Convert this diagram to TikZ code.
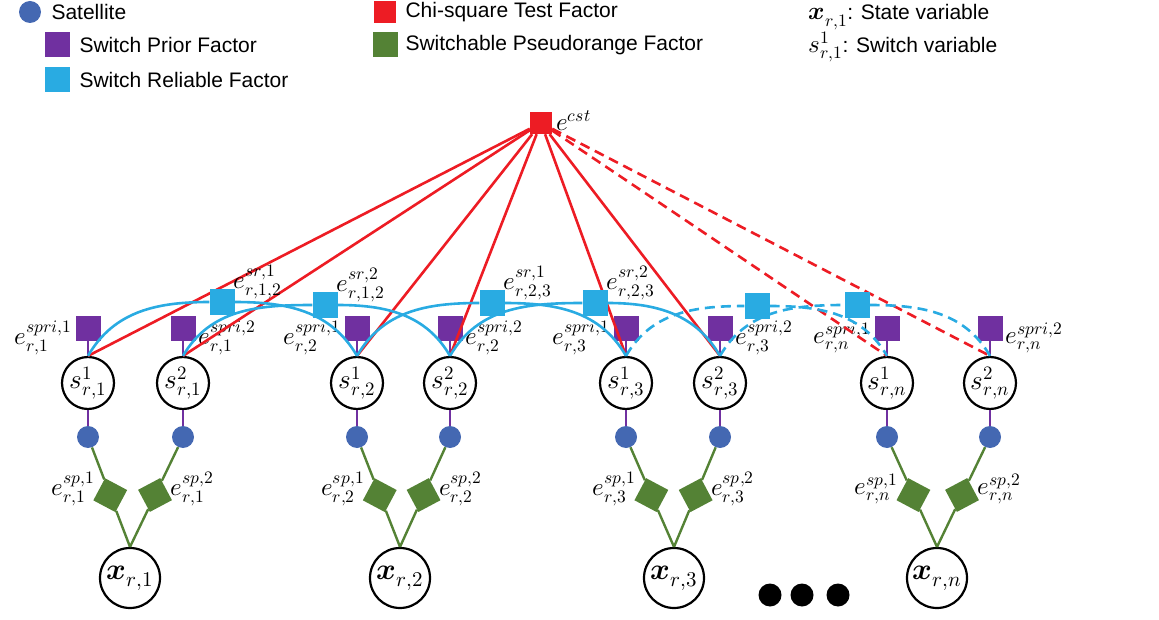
\documentclass[tikz,border=0pt]{standalone}
\usepackage{amsmath}
\usepackage{fontspec}
\usepackage{unicode-math}
\setmainfont{Liberation Sans}
\setmathfont{Latin Modern Math}
\usetikzlibrary{positioning, calc}
\definecolor{satcolor}{RGB}{68,104,178}
\definecolor{pricolor}{RGB}{112,48,160}
\definecolor{relcolor}{RGB}{41,171,226}
\definecolor{cstcolor}{RGB}{237,28,36}
\definecolor{spcolor}{RGB}{84,130,53}
\tikzset{
  svar/.style={draw, circle, line width=2.2pt, minimum size=52pt, inner sep=0pt, font=\fontsize{27}{29}\selectfont},
  xvar/.style={draw, circle, line width=2.2pt, minimum size=60pt, inner sep=0pt, font=\fontsize{30}{32}\selectfont},
  sat/.style={circle, fill=satcolor, minimum size=22pt, inner sep=0pt},
  prif/.style={rectangle, fill=pricolor, minimum size=25pt, inner sep=0pt},
  relf/.style={rectangle, fill=relcolor, minimum size=25pt, inner sep=0pt},
  cstf/.style={rectangle, fill=cstcolor, minimum size=22pt, inner sep=0pt},
  spf/.style={rectangle, fill=spcolor, minimum size=25pt, inner sep=0pt},
  flab/.style={font=\fontsize{25}{26}\selectfont, inner sep=0pt},
  leg/.style={font=\fontsize{21}{24}\selectfont, anchor=west},
  cstline/.style={cstcolor, line width=2.6pt},
  relline/.style={relcolor, line width=2.6pt},
  dashy/.style={dash pattern=on 10pt off 6pt},
}
\begin{document}
\begin{tikzpicture}[x=1pt, y=-1pt]
    \useasboundingbox (0,0) rectangle (1159,620);

    % Legend
    \node[sat] (lsat) at (30,12) {};
    \node[leg] at (48,12) {Satellite};
    \node[prif] (lpri) at (57,45) {};
    \node[leg] at (76,45) {Switch Prior Factor};
    \node[relf] (lrel) at (57,80) {};
    \node[leg] at (76,80) {Switch Reliable Factor};
    \node[cstf] (lcst) at (385,12) {};
    \node[leg] at (402,12) {Chi-square Test Factor};
    \node[spf] (lsp) at (385,45) {};
    \node[leg] at (402,45) {Switchable Pseudorange Factor};
    \node[leg] at (805,17) {{\fontsize{25}{26}\selectfont$\symbfit{x}_{r,1}$}: State variable};
    \node[leg] at (805,47) {{\fontsize{25}{26}\selectfont$s^{1}_{r,1}$}: Switch variable};

    % Chi-square factor
    \node[cstf] (cst) at (541,123) {};
    \node[flab, anchor=west] at (556,121) {$e^{cst}$};

    % Switch variables, prior factors, satellites
    \foreach \nm/\px/\i/\k/\sd in {a1/88/1/1/left, a2/183/1/2/right,
        b1/357/2/1/left, b2/450/2/2/right,
        c1/626/3/1/left, c2/720/3/2/right,
        d1/887/n/1/left, d2/990/n/2/right} {
      \node[svar] (s\nm) at (\px,383) {$s^{\k}_{r,\i}$};
      \node[prif] (p\nm) at (\px,328) {};
      \node[sat] (t\nm) at (\px,437) {};
      \draw[pricolor, line width=2.2pt] (p\nm) -- (s\nm) -- (t\nm);
      \node[flab, \sd=3pt of p\nm, yshift=-10pt] {$e^{spri,\k}_{r,\i}$};
    }

    % State variables and pseudorange factors
    \foreach \g/\px/\i in {a/130/1, b/400/2, c/674/3, d/937/n} {
      \node[xvar] (x\g) at (\px,578) {$\symbfit{x}_{r,\i}$};
      \foreach \k/\sd/\rot in {1/left/-28, 2/right/28} {
        \path (t\g\k) -- coordinate[pos=0.48] (m\g\k) (x\g.north);
        \node[spf, rotate=\rot] (f\g\k) at (m\g\k) {};
        \draw[spcolor, line width=2.4pt] (t\g\k) -- (f\g\k) -- (x\g.north);
        \node[flab, \sd=4pt of f\g\k] {$e^{sp,\k}_{r,\i}$};
      }
    }

    % Dots
    \foreach \px in {770,802,838} \node[circle, fill=black, minimum size=23pt, inner sep=0pt] at (\px,595) {};

    % Chi-square lines
    \foreach \nm in {a1,a2,b1,b2,c1,c2} \draw[cstline] (cst) -- (s\nm.north);
    \foreach \nm in {d1,d2} \draw[cstline, dashy] (cst) -- (s\nm.north);

    % Switch reliable factors (arcs)
    \foreach \u/\v/\rx/\ry/\j/\k in {a1/b1/222/302/{1,2}/1, a2/b2/325/305/{1,2}/2,
        b1/c1/492/303/{2,3}/1, b2/c2/595/303/{2,3}/2} {
      \node[relf] (r\u) at (\rx,\ry) {};
      \draw[relline] (s\u.north) to[out=60, in=180] (r\u) to[out=0, in=120] (s\v.north);
      \node[flab, anchor=south west] at ($(r\u.north east)+(-1,10)$) {$e^{sr,\k}_{r,\j}$};
    }
    \foreach \u/\v/\rx/\ry in {c1/d1/757/306, c2/d2/857/305} {
      \node[relf] (r\u) at (\rx,\ry) {};
      \draw[relline, dashy] (s\u.north) to[out=60, in=180] (r\u) to[out=0, in=120] (s\v.north);
    }
\end{tikzpicture}
\end{document}
